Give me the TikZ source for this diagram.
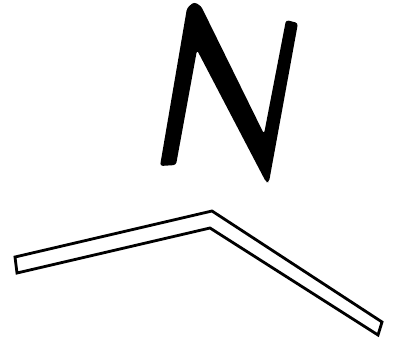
\documentclass[tikz,border=0pt]{standalone}
\usetikzlibrary{calc}

\begin{document}
\begin{tikzpicture}[x=0.25mm,y=-0.25mm]
    \useasboundingbox (0,0) rectangle (396,355);

    % North sign
    \coordinate (NL) at (160,166);
    \coordinate (NT) at (194,2);
    \coordinate (NB) at (266,182);
    \coordinate (NR) at (298,23);

    \fill[black, rounded corners=2pt]
        (NL) -- (187,8) -- (NT) -- (201,6) -- (264,134)
        -- (286,20) -- (NR) -- (269,182) -- (NB)
        -- (197,50) -- (176,165) -- cycle;

    % Draw the bent bar
    \coordinate (A) at (15,257);
    \coordinate (B) at (212,211);
    \coordinate (C) at (382,322);
    \coordinate (D) at (378,335);
    \coordinate (E) at (210,228);
    \coordinate (F) at (17,273);

    \draw[line width=2pt, line join=miter] (A) -- (B) -- (C) -- (D) -- (E) -- (F) -- cycle;

\end{tikzpicture}
\end{document}
